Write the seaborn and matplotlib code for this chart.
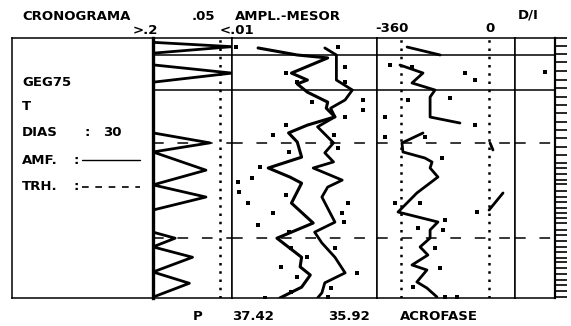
import matplotlib
matplotlib.use("Agg")
import pandas as pd
import seaborn as sns
import matplotlib.pyplot as plt

amf_dias = [2.0, 6.0]          # lineas continuas (AMF)
trh_dias = [12.1, 23.1]        # lineas discontinuas (TRH)

# P: 0 = ">.2", 1 = "<.01"
p_dia = [0.5, 1.0, 1.75, 3.1, 4.05, 5.1, 10.95, 12.1, 13.15, 15.25, 16.95, 18.35,
         19.85, 22.4, 23.1, 24.1, 25.3, 27.0, 28.3, 29.9]
p_val = [0.0, 1.0, 0.0, 0.0, 1.0, 0.0, 0.0, 0.72, 0.0, 0.67, 0.0, 0.67,
         0.0, 0.0, 0.28, 0.0, 0.5, 0.0, 0.46, 0.0]
p_corte = 0.85   # linea de puntos (.05)

# amplitud
amp_dia = [1.15, 1.96, 2.3, 4.05, 4.85, 5.3, 6.25, 7.4, 8.1, 9.1, 10.05, 10.95, 12.0,
           13.75, 15.0, 16.05, 16.75, 19.05, 21.35, 23.1, 25.3, 26.4, 27.35, 28.75, 30.0]
amp_val = [18, 45, 66, 41, 52, 45, 52, 66, 65, 71, 52, 39, 45,
           48, 25, 40, 48, 41, 56, 31, 48, 47, 54, 48, 33]

# mesor
mes_dia = [1.15, 1.96, 4.85, 6.0, 7.15, 8.1, 9.1, 10.25, 12.1, 13.25, 14.3, 15.0,
           16.4, 17.2, 18.35, 21.25, 22.4, 23.65, 25.3, 27.1, 28.25, 29.4, 30.0]
mes_val = [64, 72, 72, 83, 78, 68, 71, 59, 70, 64, 70, 56,
           76, 66, 62, 71, 57, 62, 71, 78, 64, 62, 59]

# limites (puntos) amplitud-mesor
am_pt_dia = [1.04, 1.04, 4.04, 5.08, 3.35, 5.08, 7.15, 8.31, 9.12, 7.38, 10.04, 11.19,
             11.19, 13.15, 12.69, 14.88, 16.15, 16.62, 17.77, 18.11, 19.04, 19.04, 20.19,
             20.19, 21.23, 21.58, 22.38, 24.23, 24.23, 26.42, 25.27, 27.11, 27.58, 28.85,
             29.31, 30.0, 29.88]
am_pt_val = [3, 73, 37, 45, 78, 78, 90, 90, 78, 55, 37, 28,
             70, 39, 73, 19, 14, 4, 5, 37, 80, 11, 28,
             76, 77, 18, 39, 41, 71, 34, 52, 86, 45, 68,
             41, 23, 66]

# acrofase (grados), por tramos
acr1_dia = [1.04, 1.96]
acr1_deg = [-335, -200]
acr2_dia = [3.12, 4.04, 5.19, 6.0, 6.81, 9.12, 9.81]
acr2_deg = [-364, -270, -315, -221, -241, -241, -119]
acr3_dia = [10.96, 12.11, 13.15, 13.85, 14.31, 15.0, 16.04, 17.88, 20.08, 21.23,
            22.15, 23.08, 24.11, 25.04, 26.19, 26.77, 28.15, 28.85, 29.88]
acr3_deg = [-270, -356, -352, -262, -233, -241, -209, -295, -372, -209,
            -241, -241, -282, -250, -315, -254, -295, -254, -213]
acr4_dia = [17.88, 19.85]
acr4_deg = [57, 0]
acr5_dia = [12.11, 12.92]
acr5_deg = [4, 16]

acr_pt_dia = [3.12, 3.35, 4.04, 4.85, 6.92, 7.15, 9.12, 10.04, 11.42, 11.42, 13.85,
              19.04, 19.04, 20.08, 21.0, 21.92, 22.15, 24.23, 26.54, 28.73, 29.88, 29.88]
acr_pt_deg = [-405, -315, -98, -57, -160, -331, -425, -57, -425, -262, -192,
              -385, -282, -49, -180, -290, -188, -221, -200, -311, -180, -131]

# D/I
di_pt_dia = [3.9]
di_pt_val = [0.75]

# marcas de muestreo (dias)
muestras = [0, 0.9, 1.85, 2.8, 3.8, 4.8, 5.8, 6.8, 7.7, 8.7, 9.7, 10.6, 11.5, 12.6,
            13.5, 14.4, 15.0, 15.7, 16.4, 16.9, 17.6, 18.3, 18.9, 19.6, 20.2, 20.8,
            21.4, 22.1, 22.7, 23.4, 24.1, 24.7, 25.4, 25.9, 26.5, 27.2, 27.9, 28.5,
            29.2, 29.9]

tramos = [(acr1_dia, acr1_deg), (acr2_dia, acr2_deg), (acr3_dia, acr3_deg),
          (acr4_dia, acr4_deg), (acr5_dia, acr5_deg)]
acr = pd.concat([pd.DataFrame({"tramo": i, "dia": d, "deg": g})
                 for i, (d, g) in enumerate(tramos)], ignore_index=True)

sns.set_style("white")
plt.rcParams["font.family"] = ["DejaVu Sans"]
plt.rcParams["font.weight"] = "bold"
plt.rcParams["text.color"] = "black"

W, H = 571, 326
fig, axes = plt.subplots(1, 5, figsize=(W / 100, H / 100), dpi=100, sharey=True,
                         gridspec_kw=dict(width_ratios=[141, 79, 145, 138, 40], wspace=0))
fig.subplots_adjust(left=12 / W, right=555 / W, top=1 - 38 / H, bottom=28 / H)
ax_txt, ax_p, ax_am, ax_ac, ax_di = axes

lw_ev = 1.1
dash = (0, (7, 9))
dots = (0, (1, 2.3))

for ax in axes:
    for sp in ax.spines.values():
        sp.set_color("k")
        sp.set_linewidth(1.1)
    ax.tick_params(left=False, right=False, bottom=False, top=False,
                   labelleft=False, labelbottom=False)
for ax in axes[1:]:
    for d in amf_dias:
        ax.axhline(d, color="k", lw=lw_ev)
    for d in trh_dias:
        ax.axhline(d, color="k", lw=lw_ev, ls=dash)

# P
ax_p.axvline(p_corte, color="k", lw=1.8, ls=dots)
sns.lineplot(x=p_val, y=p_dia, orient="y", sort=False, estimator=None,
             color="k", lw=2.0, ax=ax_p)
ax_p.spines["left"].set_linewidth(2.4)
ax_p.set_xlim(0, 1)

# amplitud - mesor
sns.lineplot(x=amp_val, y=amp_dia, orient="y", sort=False, estimator=None,
             color="k", lw=2.2, ax=ax_am)
sns.lineplot(x=mes_val, y=mes_dia, orient="y", sort=False, estimator=None,
             color="k", lw=2.0, ax=ax_am)
sns.scatterplot(x=am_pt_val, y=am_pt_dia, marker="s", s=5, color="k",
                linewidth=0, ax=ax_am)
ax_am.set_xlim(0, 100)

# acrofase
for g in [-360, 0]:
    ax_ac.axvline(g, color="k", lw=1.8, ls=dots)
sns.lineplot(data=acr, x="deg", y="dia", units="tramo", orient="y", sort=False,
             estimator=None, color="k", lw=2.0, ax=ax_ac)
sns.scatterplot(x=acr_pt_deg, y=acr_pt_dia, marker="s", s=5, color="k",
                linewidth=0, ax=ax_ac)
ax_ac.set_xlim(-458, 106)

# D/I
sns.scatterplot(x=di_pt_val, y=di_pt_dia, marker="s", s=5, color="k",
                linewidth=0, ax=ax_di)
ax_di.set_xlim(0, 1)
ax_di.set_yticks(muestras)
ax_di.tick_params(axis="y", right=True, left=False, labelright=False,
                  length=8.5, width=1.2, direction="out", color="k")
ax_di.spines["right"].set_linewidth(1.6)

ax_txt.set_xlim(0, 1)
ax_txt.set_ylim(30, 0)
for ax in axes:
    ax.set(xlabel="", ylabel="")

# leyenda del panel izquierdo
ax_txt.plot([0.496, 0.908], [0.531, 0.531], color="k", lw=1.0, transform=ax_txt.transAxes)
ax_txt.plot([0.496, 0.908], [0.427, 0.427], color="k", lw=1.2, ls=(0, (4, 4)),
            transform=ax_txt.transAxes)


def t(x, y, s, **kw):
    fig.text(x / W, 1 - y / H, s, ha="left", va="center", fontsize=9.5,
             fontweight="bold", color="black", **kw)


t(22, 17, "CRONOGRAMA")
t(192, 17, ".05")
t(235, 17, "AMPL.-MESOR")
t(518, 15, "D/I")
t(133, 31, ">.2")
t(220, 31, "<.01")
t(375, 28, "-360")
t(485, 28, "0")
t(22, 83, "GEG75")
t(22, 107, "T")
t(22, 133, "DIAS")
t(85, 133, ":")
t(103, 133, "30")
t(22, 160, "AMF.")
t(74, 160, ":")
t(22, 187, "TRH.")
t(74, 187, ":")
t(193, 316, "P")
t(232, 316, "37.42")
t(328, 316, "35.92")
t(400, 316, "ACROFASE")

fig.savefig("out.png", dpi=100, facecolor="white")
